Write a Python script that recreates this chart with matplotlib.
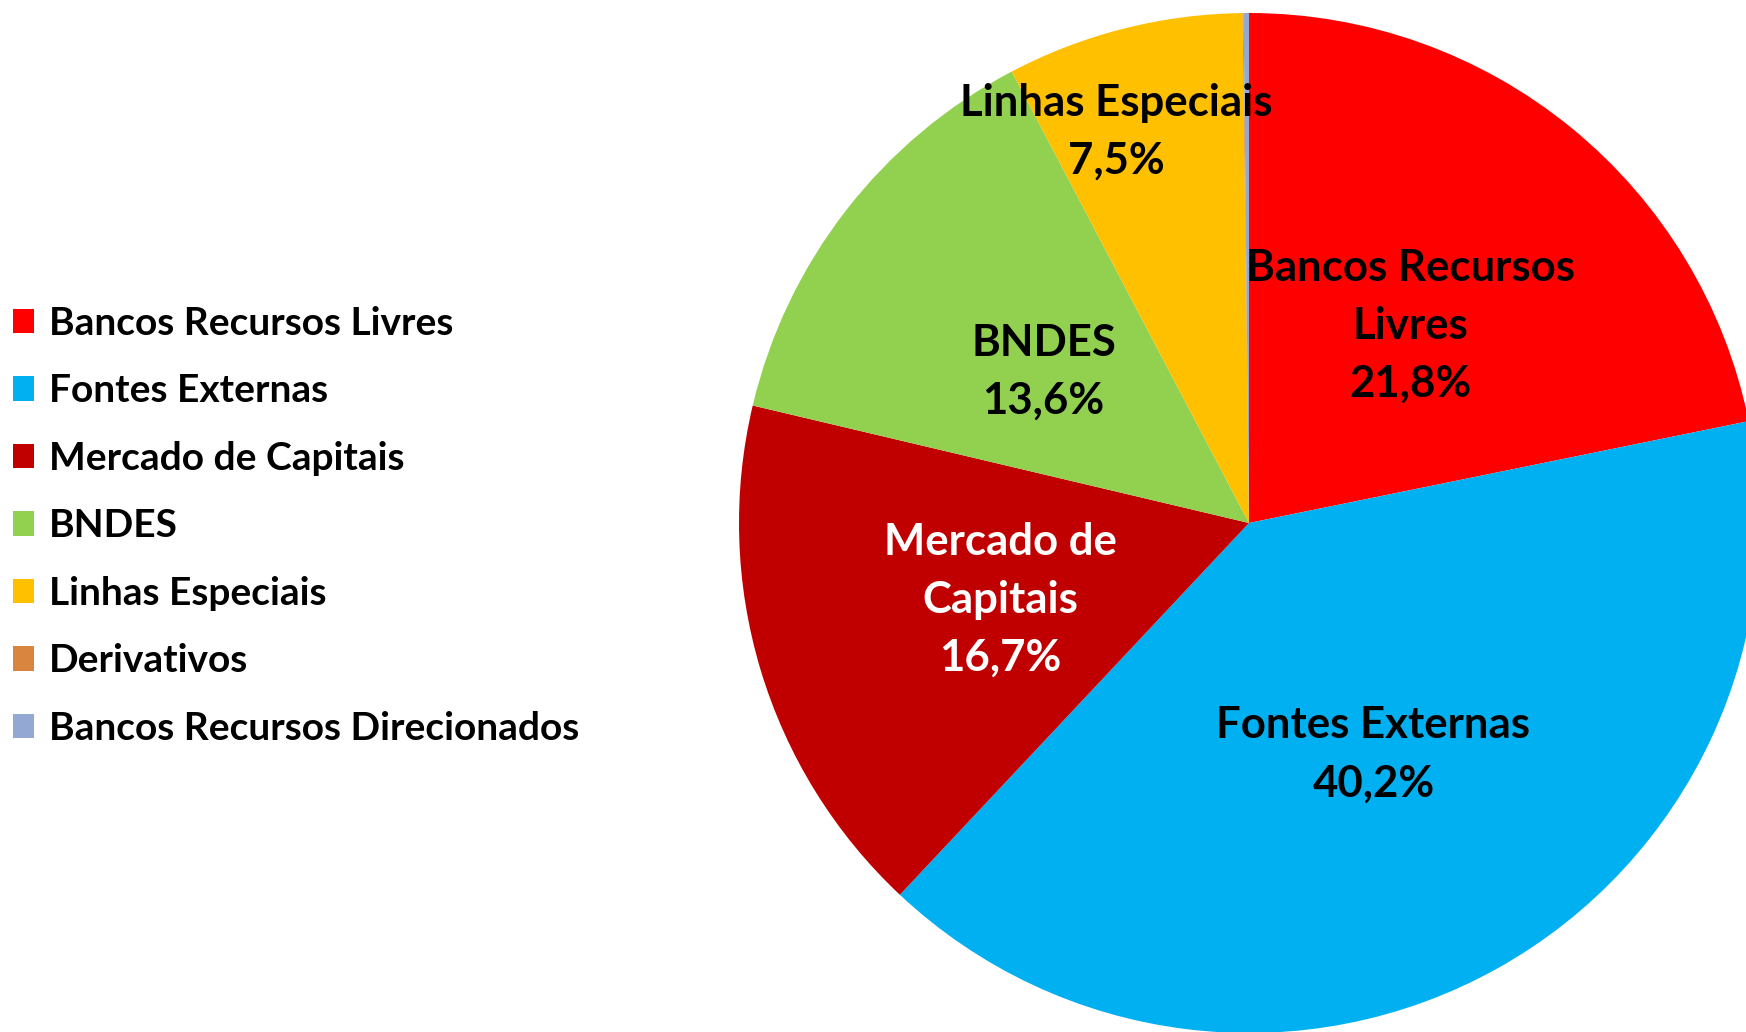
import numpy as np
import matplotlib
matplotlib.use("Agg")
import matplotlib.pyplot as plt

plt.rcParams['font.family'] = ['Lato', 'DejaVu Sans']

# Dados (%)
categorias = ['Bancos Recursos Livres', 'Fontes Externas', 'Mercado de Capitais',
              'BNDES', 'Linhas Especiais', 'Derivativos', 'Bancos Recursos Direcionados']
valores = [21.8, 40.2, 16.7, 13.6, 7.5, 0.03, 0.17]
rotulos = ['Bancos Recursos\nLivres\n21,8%', 'Fontes Externas\n40,2%',
           'Mercado de\nCapitais\n16,7%', 'BNDES\n13,6%', 'Linhas Especiais\n7,5%', None, None]
cores = ['#FF0000', '#00B0F0', '#C00000', '#92D050', '#FFC000', '#D9843F', '#93A8D2']
cor_texto = ['black', 'black', 'white', 'black', 'black', None, None]

W, H = 1746, 1032
fig = plt.figure(figsize=(W / 100, H / 100), dpi=100)
ax = fig.add_axes([0, 0, 1, 1])
ax.set_xlim(0, W)
ax.set_ylim(0, H)
ax.set_aspect('equal')
ax.axis('off')

cx, cy, R = 1249, H - 523, 510
wedges, _ = ax.pie(valores, colors=cores, startangle=90, counterclock=False,
                   center=(cx, cy), radius=R, wedgeprops=dict(linewidth=0))
ax.set_xlim(0, W)
ax.set_ylim(0, H)

# posição dos rótulos: (fração do raio, desvio angular)
ajuste = {1: (0.515, -0.9), 2: (0.51, 0.5), 3: (0.5, 1.5), 4: (0.81, 4.5)}
for i, w in enumerate(wedges):
    if rotulos[i] is None:
        continue
    ang = (w.theta1 + w.theta2) / 2
    dist, dang = ajuste.get(i, (0.5, 0))
    a = np.deg2rad(ang + dang)
    ax.text(cx + dist * R * np.cos(a), cy + dist * R * np.sin(a), rotulos[i],
            ha='center', va='center', fontsize=31.5, fontweight='bold',
            color=cor_texto[i], linespacing=1.54)

ax.legend(wedges, categorias, loc='center left', bbox_to_anchor=(0.0074, 0.4905),
          frameon=False, prop=dict(weight='bold', size=28),
          handlelength=0.54, handleheight=0.59, handletextpad=0.39,
          labelspacing=0.835, borderpad=0, borderaxespad=0)

fig.savefig('out.png', dpi=100)
